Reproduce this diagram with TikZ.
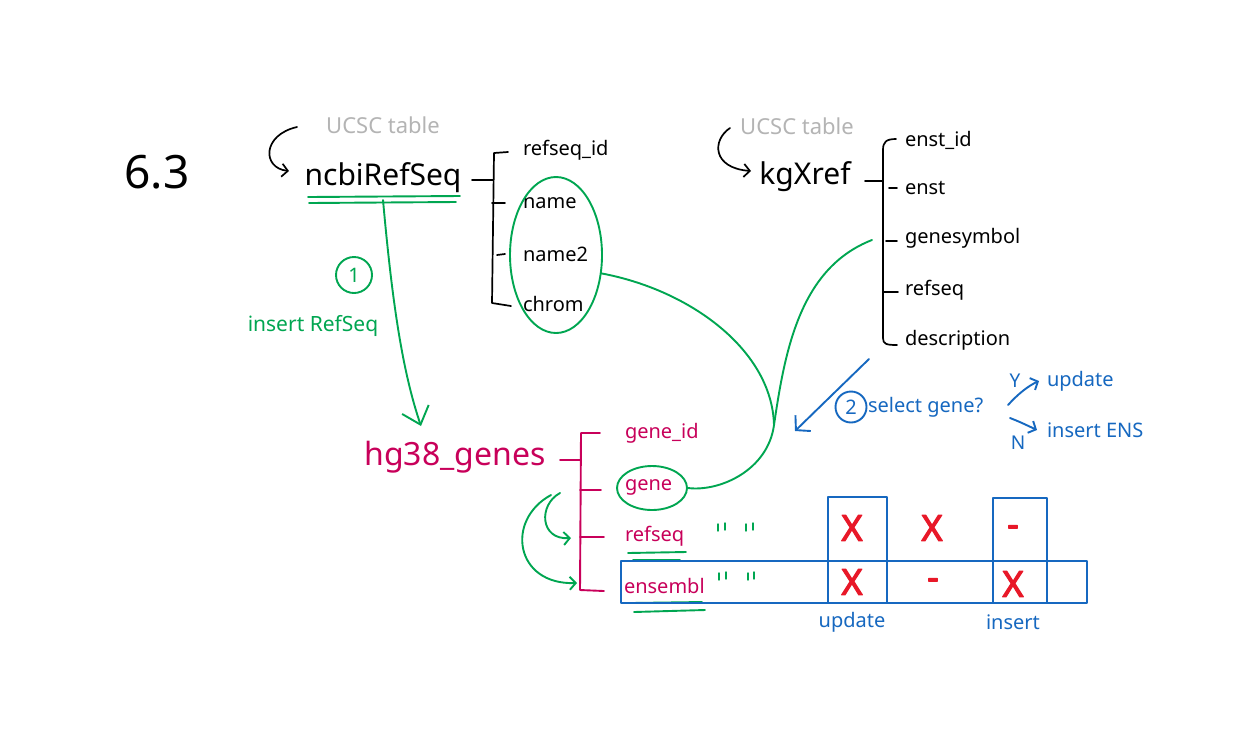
\documentclass[tikz,border=0pt]{standalone}
\usepackage{fontspec}
\setmainfont{Noto Sans}
\usetikzlibrary{arrows.meta,shapes.geometric}
\definecolor{cgreen}{RGB}{0,166,81}
\definecolor{ccrim}{RGB}{200,0,90}
\definecolor{cblue}{RGB}{22,104,192}
\definecolor{cred}{RGB}{232,24,40}
\definecolor{cgray}{RGB}{180,180,180}
\begin{document}
\begin{tikzpicture}[x=1pt,y=-1pt,line cap=round,line join=round,
  txt/.style={inner sep=0pt,outer sep=0pt},
  fs/.style={font=\fontsize{#1}{#1}\selectfont},
  lw/.style={txt,fs=20,anchor=west},
  bl/.style={draw=black,line width=1.7pt},
  gl/.style={draw=cgreen,line width=1.9pt},
  cl/.style={draw=ccrim,line width=1.9pt},
  bu/.style={draw=cblue,line width=1.9pt},
  tipS/.style={-{Straight Barb[length=6pt,width=13pt]}},
  tipM/.style={-{Straight Barb[length=10pt,width=22pt]}},
  tipL/.style={-{Straight Barb[length=16pt,width=28pt]}},
  xmark/.style={txt,font=\fontsize{36}{36}\selectfont\addfontfeature{FakeBold=3},text=cred}]
\useasboundingbox[fill=white] (0,0) rectangle (1260,748);

% title number
\node[txt,fs=46] (num) at (157,172) {6.3};

% ---------------- ncbiRefSeq ----------------
\node[txt,fs=22,text=cgray] (ucscA) at (383,125) {UCSC table};
\node[txt,fs=30] (ncbi) at (383,178) {ncbiRefSeq};
\coordinate (aAs) at (297,127);
\coordinate (aAe) at (289,171);
\draw[bl,tipS] (aAs) .. controls (262,135) and (262,168) .. (aAe);

\draw[bl] (472,180) -- (493,180);
\draw[bl] (508,152) -- (494,153) -- (492,303) -- (511,306);
\draw[bl] (492,203) -- (505,203);
\draw[bl] (497,255) -- (505,254);

\node[lw] (rid) at (523,150) {refseq\_id};
\node[lw] (nm) at (523,203) {name};
\node[lw] (nm2) at (523,254) {name2};
\node[lw] (chr) at (523,304) {chrom};
\node[ellipse,gl,minimum width=92,minimum height=156,inner sep=0] (ellA) at (556,255) {};

\draw[gl] (308,197) -- (460,196);
\draw[gl] (309,203) -- (456,202);

\coordinate (ulA) at (383,200);
\coordinate (hgTip) at (421,426);
\draw[gl,tipL] (ulA) .. controls (392,300) and (402,370) .. (hgTip);
\node[circle,gl,minimum size=36,inner sep=0,fs=20,text=cgreen] (one) at (354,275) {1};
\node[txt,fs=21,text=cgreen] (insRS) at (313,326) {insert RefSeq};

% ---------------- kgXref ----------------
\node[txt,fs=22,text=cgray] (ucscB) at (797,126) {UCSC table};
\node[txt,fs=30] (kgx) at (805,177) {kgXref};
\coordinate (aBs) at (730,128);
\coordinate (aBe) at (751,171);
\draw[bl,tipS] (aBs) .. controls (712,140) and (712,168) .. (aBe);

\draw[bl] (865,181) -- (883,181);
\draw[bl] (896,139) .. controls (886,139) and (883,142) .. (883,150) -- (883,338) .. controls (883,344) and (886,345) .. (897,345);
\draw[bl] (889,188) -- (897,188);
\draw[bl] (886,241) -- (897,241);
\draw[bl] (883,292) -- (898,292);

\node[lw] (eid) at (905,140) {enst\_id};
\node[lw] (enst) at (905,188) {enst};
\node[lw] (gsy) at (905,238) {genesymbol};
\node[lw] (krs) at (905,290) {refseq};
\node[lw] (desc) at (905,340) {description};

% ---------------- hg38_genes ----------------
\node[txt,fs=32,text=ccrim] (hg) at (455,457) {hg38\_genes};
\draw[cl] (560,460) -- (580,460);
\draw[cl] (600,433) -- (581,433) -- (580,590) -- (604,591);
\draw[cl] (580,490) -- (601,490);
\draw[cl] (580,537) -- (604,537);

\node[lw,text=ccrim] (gid) at (625,433) {gene\_id};
\node[lw,text=ccrim] (gn) at (625,487) {gene};
\node[lw,text=ccrim] (rs) at (625,536) {refseq};
\node[lw,text=ccrim] (ens) at (624,586) {ensembl};
\node[ellipse,gl,minimum width=70,minimum height=44,inner sep=0] (gell) at (652,488) {};

% green links to gene
\coordinate (mrg) at (774,425);
\coordinate (gsymA) at (872,240);
\draw[gl] (ellA.-22) .. controls (690,290) and (772,350) .. (mrg);
\draw[gl] (gsymA) .. controls (800,268) and (785,350) .. (mrg) .. controls (768,470) and (720,492) .. (gell.east);

% underlines
\draw[gl] (628,553) -- (686,552);
\draw[gl] (633,560) -- (680,560);
\draw[gl] (631,603) -- (702,602);
\draw[gl] (634,612) -- (705,610);

% ditto marks
\draw[gl,line width=1.4pt] (718,524) -- (718,531) (725,523) -- (725,530) (746,524) -- (746,531) (753,523) -- (753,530);
\draw[gl,line width=1.4pt] (719,573) -- (719,580) (726,572) -- (726,579) (748,573) -- (748,580) (754,572) -- (754,579);

% curved green arrows
\coordinate (cAs) at (560,493);
\coordinate (cAe) at (571,538);
\draw[gl,tipS] (cAs) .. controls (538,505) and (540,540) .. (cAe);
\coordinate (cBs) at (551,495);
\coordinate (cBe) at (577,583);
\draw[gl,tipS] (cBs) .. controls (505,520) and (515,585) .. (cBe);

% ---------------- blue table ----------------
\node[bu,minimum width=466,minimum height=42,inner sep=0] (row) at (854,582) {};
\node[bu,minimum width=59,minimum height=106,inner sep=0] (colU) at (857.5,550) {};
\node[bu,minimum width=54,minimum height=105,inner sep=0] (colI) at (1020,550.5) {};

\node[xmark] (x1) at (852,528) {X};
\node[xmark] (x2) at (932,528) {X};
\node[xmark] (d1) at (1013,531) {-};
\node[xmark] (x3) at (852,582) {X};
\node[xmark] (d2) at (933,584) {-};
\node[xmark] (x4) at (1013,584) {X};

\node[txt,fs=20,text=cblue] (lupd) at (852,622) {update};
\node[txt,fs=20,text=cblue] (lins) at (1013,622) {insert};

% ---------------- select gene ----------------
\coordinate (bAs) at (869,359);
\coordinate (bAe) at (795,431);
\draw[bu,tipM] (bAs) -- (bAe);
\node[circle,bu,minimum size=31,inner sep=0,fs=20,text=cblue] (two) at (851,407) {2};
\node[lw,text=cblue] (sel) at (868,407) {select gene?};
\node[txt,fs=19,text=cblue] (yy) at (1015,381) {Y};
\coordinate (yAs) at (1008,405);
\coordinate (yAe) at (1039,381);
\draw[bu,tipS] (yAs) .. controls (1018,394) and (1028,386) .. (yAe);
\node[lw,text=cblue] (upd2) at (1047,381) {update};
\node[txt,fs=19,text=cblue] (nn) at (1018,443) {N};
\coordinate (nAs) at (1010,418);
\coordinate (nAe) at (1037,430);
\draw[bu,tipS] (nAs) .. controls (1020,422) .. (nAe);
\node[lw,text=cblue] (insE) at (1047,430) {insert ENS};
\end{tikzpicture}
\end{document}
